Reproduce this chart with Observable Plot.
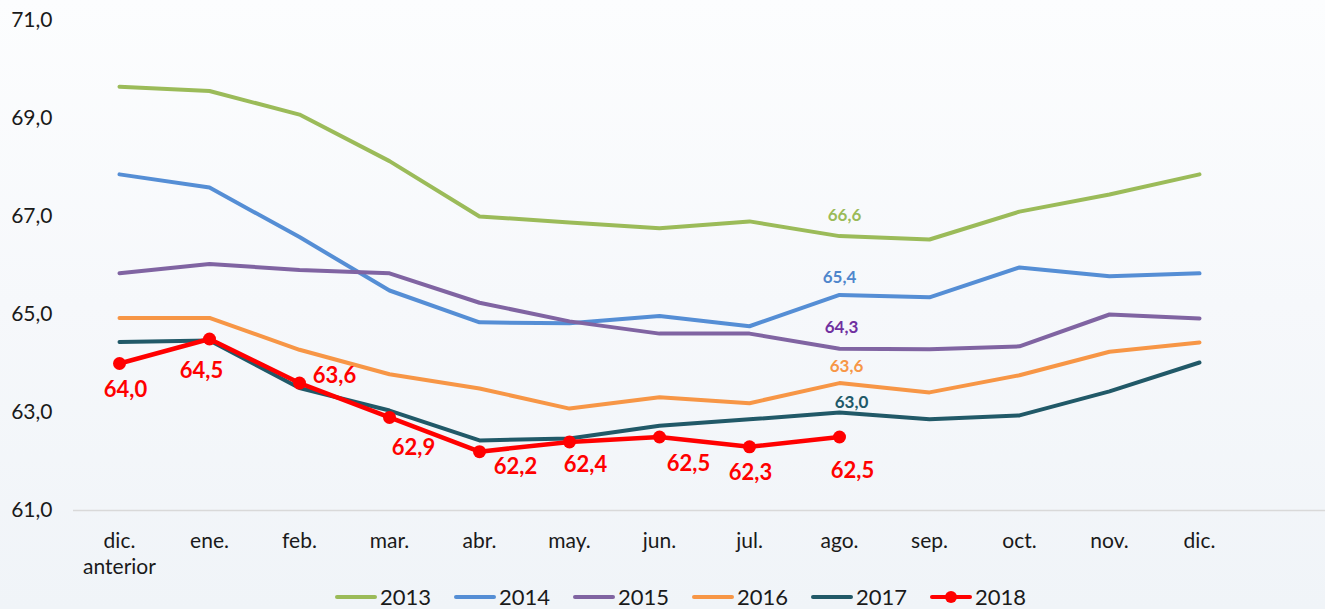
<!DOCTYPE html>
<html>
<head>
<meta charset="utf-8">
<script src="https://cdn.jsdelivr.net/npm/d3@7"></script>
<script src="https://cdn.jsdelivr.net/npm/@observablehq/plot@0.6"></script>
<style>
  html, body { margin: 0; padding: 0; }
  body {
    width: 1325px; height: 609px; overflow: hidden;
    background: linear-gradient(to bottom, #fcfdfe 0%, #f6f8fb 50%, #f0f4f8 100%);
    font-family: Lato, "Noto Sans", sans-serif;
  }
  #legend {
    display: flex; align-items: center;
    padding-left: 335px; padding-top: 4px;
    height: 25px; line-height: 24px;
    font-size: 22px; color: #1a1a1a;
  }
  .item { display: inline-flex; align-items: center; width: 119px; }
  .item svg { margin-right: 3px; }
</style>
</head>
<body>
<div id="chart"></div>
<div id="legend"></div>
<script>
// ---- data ----
const months = ["dic.\nanterior", "ene.", "feb.", "mar.", "abr.", "may.", "jun.", "jul.", "ago.", "sep.", "oct.", "nov.", "dic."];
const years = ["2013", "2014", "2015", "2016", "2017", "2018"];
const v2013 = [69.65, 69.56, 69.08, 68.13, 67.0, 66.88, 66.76, 66.9, 66.6, 66.53, 67.1, 67.45, 67.86];
const v2014 = [67.86, 67.59, 66.58, 65.49, 64.84, 64.82, 64.97, 64.76, 65.4, 65.35, 65.96, 65.78, 65.84];
const v2015 = [65.84, 66.03, 65.91, 65.84, 65.24, 64.86, 64.61, 64.61, 64.3, 64.29, 64.35, 65.0, 64.92];
const v2016 = [64.93, 64.93, 64.28, 63.78, 63.49, 63.08, 63.31, 63.19, 63.6, 63.41, 63.76, 64.24, 64.43];
const v2017 = [64.44, 64.47, 63.5, 63.04, 62.43, 62.47, 62.73, 62.86, 63.0, 62.86, 62.94, 63.43, 64.02];
const v2018 = [64.0, 64.5, 63.6, 62.9, 62.2, 62.4, 62.5, 62.3, 62.5];
const yTicks = [61, 63, 65, 67, 69, 71];

// ---- styling / layout (not data) ----
const colors = {"2013": "#9bbb59", "2014": "#558ed5", "2015": "#8064a2", "2016": "#f79646", "2017": "#215968", "2018": "#ff0000"};
const labelColors = {"2013": "#9bbb59", "2014": "#4f86cc", "2015": "#7030a0", "2016": "#f79646", "2017": "#215968"};
const agoLabelOffsets = {"2013": [5, -21], "2014": [0, -17], "2015": [2, -21], "2016": [7, -17], "2017": [12, -10]};
const redLabelOffsets = [[6, 26], [-8, 32], [35, -7], [24, 31], [36, 15], [16, 23], [29, 27], [1, 26], [13, 34]];

const series = {"2013": v2013, "2014": v2014, "2015": v2015, "2016": v2016, "2017": v2017, "2018": v2018};
const rows = years.flatMap(y => series[y].map((v, i) => ({year: y, month: months[i], value: v, i})));
const fmt = v => d3.format(".1f")(v).replace(".", ",");

const redRows = rows.filter(d => d.year === "2018");
const agoRows = rows.filter(d => d.month === "ago." && d.year !== "2018");

const marks = [
  Plot.ruleY([61], {stroke: "#d9d9d9", strokeWidth: 1.5, insetRight: -81, insetLeft: -1}),
  Plot.axisY({ticks: yTicks, tickFormat: fmt, tickSize: 0, tickPadding: 22, fontSize: 21, fill: "#1a1a1a"}),
  Plot.axisX({tickSize: 0, tickPadding: 20, fontSize: 21, lineHeight: 1.2, fill: "#1a1a1a"}),
  ...years.map(y => Plot.line(rows.filter(d => d.year === y), {
    x: "month", y: "value", stroke: colors[y], strokeWidth: y === "2018" ? 4.5 : 4, strokeLinejoin: "round", strokeLinecap: "round"
  })),
  Plot.dot(redRows, {x: "month", y: "value", r: 6.5, fill: "#ff0000"}),
  ...redRows.map((d, k) => Plot.text([d], {
    x: "month", y: "value", text: r => fmt(r.value), dx: redLabelOffsets[k][0], dy: redLabelOffsets[k][1],
    fill: "#ff0000", fontWeight: "bold", fontSize: 22, textAnchor: "middle", lineAnchor: "middle"
  })),
  ...agoRows.map(d => Plot.text([d], {
    x: "month", y: "value", text: r => fmt(r.value), dx: agoLabelOffsets[d.year][0], dy: agoLabelOffsets[d.year][1],
    fill: labelColors[d.year], fontWeight: "bold", fontSize: 17, textAnchor: "middle", lineAnchor: "middle"
  }))
];

const chart = Plot.plot({
  width: 1325,
  height: 580,
  marginLeft: 74,
  marginRight: 81,
  marginTop: 20,
  marginBottom: 70,
  style: {background: "transparent", fontFamily: "Lato, 'Noto Sans', sans-serif", fontSize: "20px", overflow: "visible"},
  x: {type: "point", domain: months, padding: 0.5, label: null},
  y: {domain: [61, 71], label: null},
  marks
});
document.getElementById("chart").appendChild(chart);

// legend
const legend = document.getElementById("legend");
years.forEach(y => {
  const item = document.createElement("span");
  item.className = "item";
  const dot = y === "2018" ? `<circle cx="21" cy="7" r="6" fill="${colors[y]}"/>` : "";
  item.innerHTML = `<svg width="42" height="14"><line x1="2" x2="40" y1="7" y2="7" stroke="${colors[y]}" stroke-width="4" stroke-linecap="round"/>${dot}</svg><span>${y}</span>`;
  legend.appendChild(item);
});
</script>
</body>
</html>
